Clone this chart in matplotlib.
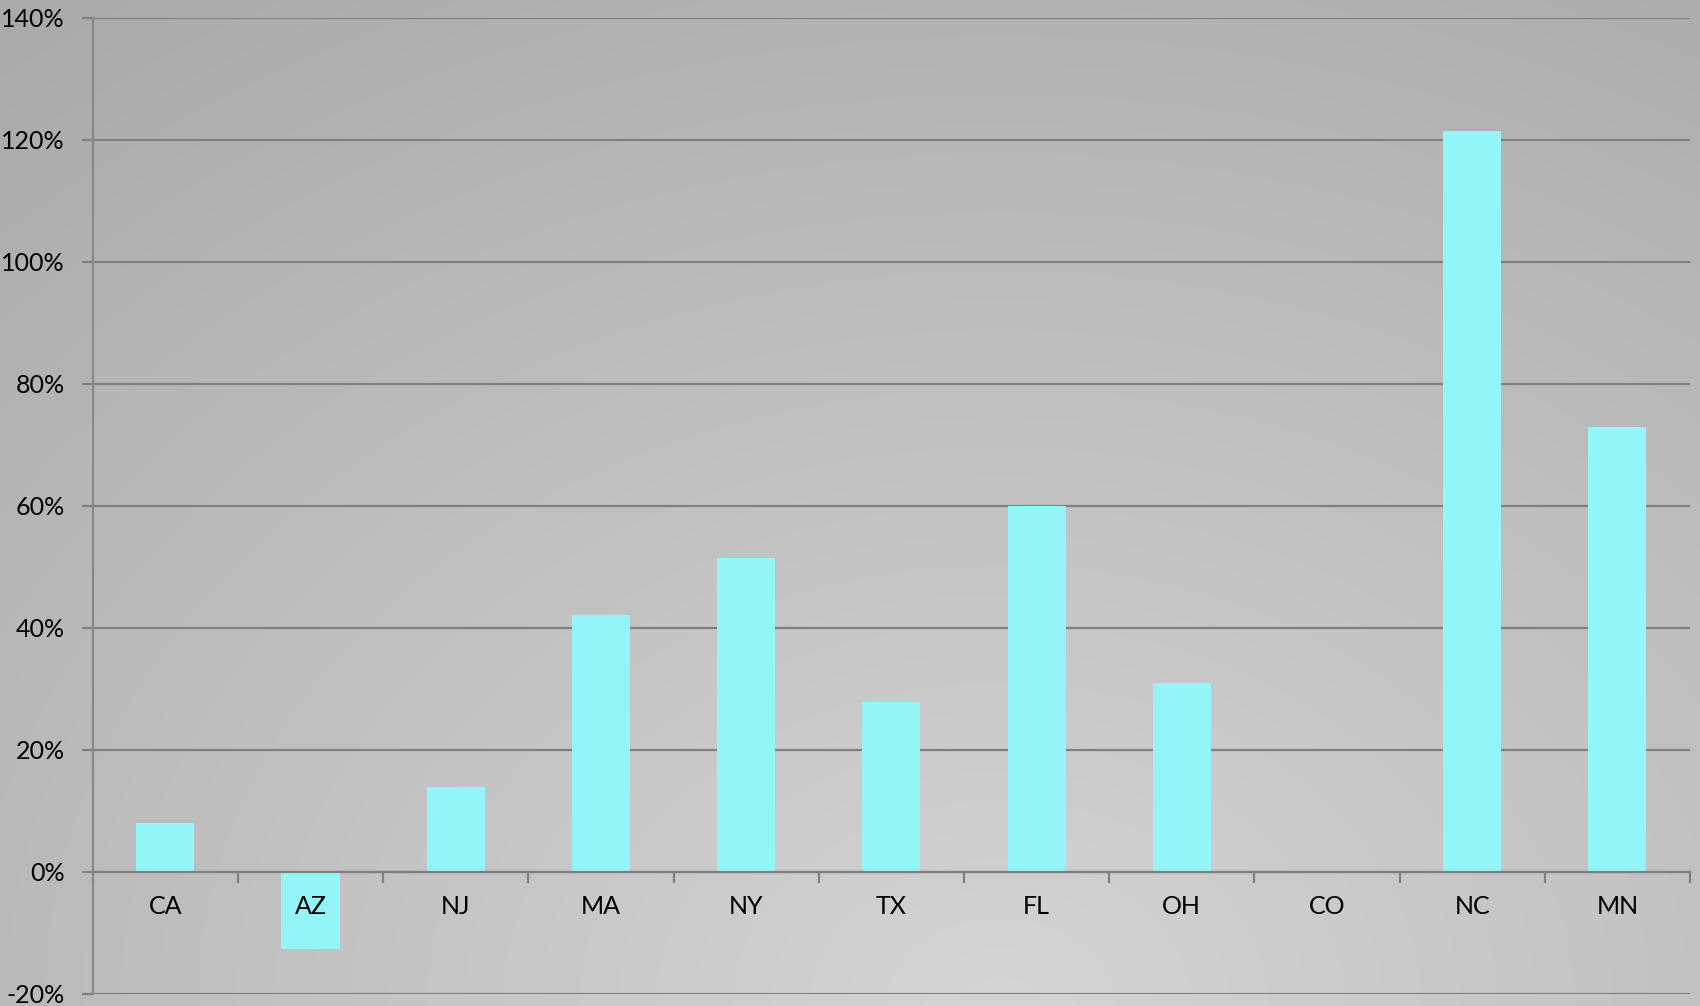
import numpy as np
import matplotlib
matplotlib.use("Agg")
import matplotlib.pyplot as plt
from matplotlib.ticker import FuncFormatter, FixedLocator

# --- Data ---
states = ["CA", "AZ", "NJ", "MA", "NY", "TX", "FL", "OH", "CO", "NC", "MN"]
growth = [8.0, -12.7, 13.9, 42.1, 51.4, 27.9, 59.9, 30.9, 0.0, 121.5, 72.9]
y_ticks = [-20, 0, 20, 40, 60, 80, 100, 120, 140]

W, H = 1700, 1006
fig = plt.figure(figsize=(W / 100, H / 100), dpi=100)

# --- Background: soft radial gray gradient, lightest near bottom centre ---
bg = fig.add_axes([0, 0, 1, 1], zorder=-10)
yy, xx = np.mgrid[0:H, 0:W]
dist = np.sqrt(((xx - 1000) / 1.3) ** 2 + (yy - H) ** 2)
shade = np.clip(212 - 0.034 * dist, 160, 215) / 255.0
bg.imshow(np.dstack([shade, shade, shade]), aspect="auto", extent=[0, 1, 0, 1])
bg.axis("off")

# --- Main chart ---
ax = fig.add_axes([92.7 / W, 1 - 993.7 / H, (1690 - 92.7) / W, (993.7 - 17.7) / H])
ax.patch.set_alpha(0)

x = np.arange(len(states))
ax.bar(x, growth, width=0.4, color="#94f5f9", zorder=3)

ax.set_xlim(-0.5, len(states) - 0.5)
ax.set_ylim(-20, 140)

# horizontal gridlines (including the bottom -20% line)
ax.yaxis.set_major_locator(FixedLocator(y_ticks))
ax.yaxis.set_major_formatter(FuncFormatter(lambda v, p: f"{int(v)}%"))
ax.grid(axis="y", color="#808080", linewidth=1.6, zorder=1)
ax.tick_params(axis="y", length=8, width=1.6, color="#808080", labelsize=18, pad=12)
for lab in ax.get_yticklabels():
    lab.set_fontfamily("Lato")

# category axis sits at the 0% line
ax.spines["bottom"].set_position(("data", 0))
ax.spines["bottom"].set_color("#808080")
ax.spines["bottom"].set_linewidth(1.6)
ax.spines["bottom"].set_zorder(4)
ax.spines["left"].set_color("#888888")
ax.spines["left"].set_linewidth(1.6)
for s in ["top", "right"]:
    ax.spines[s].set_visible(False)

ax.set_xticks(np.arange(len(states) + 1) - 0.5)
ax.set_xticklabels([])
ax.tick_params(axis="x", length=8, width=1.6, color="#808080", direction="out")

for i, s in enumerate(states):
    ax.annotate(s, xy=(i, 0), xytext=(0, -35), textcoords="offset pixels",
                ha="center", va="center", fontsize=18, family="Lato", color="black")

fig.savefig("out.png", dpi=100)
